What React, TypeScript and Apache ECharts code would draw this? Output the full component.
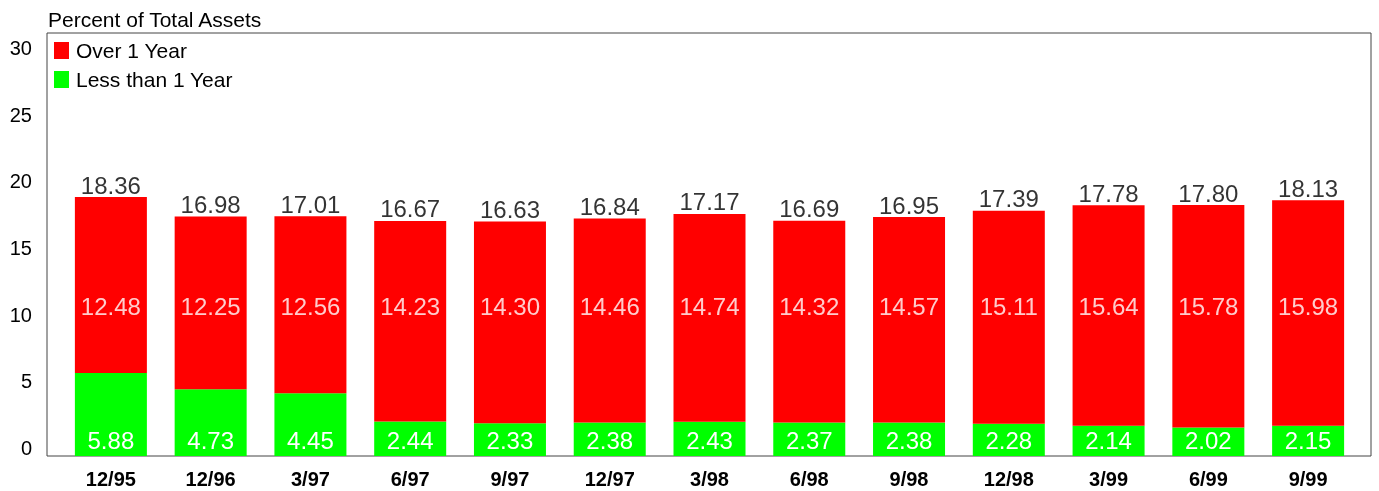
import React, { useEffect, useRef } from "react";
import * as echarts from "echarts";

const categories = ["12/95", "12/96", "3/97", "6/97", "9/97", "12/97", "3/98", "6/98", "9/98", "12/98", "3/99", "6/99", "9/99"];
const overOneYear = [12.48, 12.25, 12.56, 14.23, 14.3, 14.46, 14.74, 14.32, 14.57, 15.11, 15.64, 15.78, 15.98];
const lessThanOneYear = [5.88, 4.73, 4.45, 2.44, 2.33, 2.38, 2.43, 2.37, 2.38, 2.28, 2.14, 2.02, 2.15];
const totals = [18.36, 16.98, 17.01, 16.67, 16.63, 16.84, 17.17, 16.69, 16.95, 17.39, 17.78, 17.8, 18.13];
const yTicks = { min: 0, max: 30, interval: 5 };
const innerLabelLevel = 10.6;

const FONT = "Liberation Sans, Arial, sans-serif";

export default function App() {
  const ref = useRef<HTMLDivElement>(null);
  useEffect(() => {
    if (!ref.current) return;
    const chart = echarts.init(ref.current, null, { renderer: "svg" });
    chart.setOption({
      animation: false,
      textStyle: { fontFamily: FONT },
      title: {
        text: "Percent of Total Assets",
        left: 43,
        top: 4,
        textStyle: { fontFamily: FONT, fontSize: 21, fontWeight: "normal", color: "#000" },
      },
      legend: {
        orient: "vertical",
        left: 49,
        top: 35,
        itemWidth: 15,
        itemHeight: 17,
        itemGap: 8,
        icon: "rect",
        textStyle: { fontFamily: FONT, fontSize: 21, color: "#000", padding: [0, 0, 11, 2] },
        data: ["Over 1 Year", "Less than 1 Year"],
      },
      grid: [
        { left: 61, width: 1297, top: 33, height: 423, show: false },
        { left: 47, width: 1324, top: 33, height: 423, show: true, borderColor: "#444", borderWidth: 1, backgroundColor: "transparent", z: 0 },
        { left: 47, width: 1324, top: 48, height: 400, show: false },
      ],
      xAxis: [
        {
          gridIndex: 0,
          type: "category",
          data: categories,
          axisLine: { show: false },
          axisTick: { show: false },
          axisLabel: { fontFamily: FONT, fontSize: 20, fontWeight: "bold", color: "#000", margin: 13 },
        },
        { gridIndex: 1, type: "value", show: false, min: 0, max: 1 },
        { gridIndex: 2, type: "value", show: false, min: 0, max: 1 },
      ],
      yAxis: [
        { gridIndex: 0, type: "value", min: yTicks.min, max: yTicks.max, interval: yTicks.interval, show: false },
        { gridIndex: 1, type: "value", min: 0, max: 1, show: false },
        {
          gridIndex: 2,
          type: "value",
          min: yTicks.min,
          max: yTicks.max,
          interval: yTicks.interval,
          axisLine: { show: false },
          axisTick: { show: false },
          splitLine: { show: false },
          axisLabel: { fontFamily: FONT, fontSize: 20, color: "#000", margin: 15 },
        },
      ],
      series: [
        {
          name: "Less than 1 Year",
          type: "bar",
          stack: "a",
          xAxisIndex: 0,
          yAxisIndex: 0,
          barWidth: 72,
          data: lessThanOneYear,
          itemStyle: { color: "#00FF00" },
          label: {
            show: true,
            position: "insideBottom",
            distance: 4,
            color: "#fff",
            fontFamily: FONT,
            fontSize: 24,
            formatter: (p: any) => p.value.toFixed(2),
          },
        },
        {
          name: "Over 1 Year",
          type: "bar",
          stack: "a",
          xAxisIndex: 0,
          yAxisIndex: 0,
          barWidth: 72,
          data: overOneYear,
          itemStyle: { color: "#FF0000" },
        },
        {
          type: "scatter",
          xAxisIndex: 0,
          yAxisIndex: 0,
          symbolSize: 0,
          silent: true,
          data: overOneYear.map((v, i) => ({ value: [i, innerLabelLevel], label: { formatter: v.toFixed(2) } })),
          label: { show: true, position: "inside", color: "#fff", fontFamily: FONT, fontSize: 24 },
          z: 5,
        },
        {
          type: "scatter",
          xAxisIndex: 0,
          yAxisIndex: 0,
          symbolSize: 0,
          silent: true,
          data: totals.map((v, i) => ({ value: [i, v], label: { formatter: v.toFixed(2) } })),
          label: { show: true, position: "top", distance: 0, color: "#000", fontFamily: FONT, fontSize: 24 },
          z: 5,
        },
      ],
    });
    return () => chart.dispose();
  }, []);
  return <div ref={ref} style={{ position: "fixed", left: 0, top: 0, width: 1379, height: 491 }} />;
}
